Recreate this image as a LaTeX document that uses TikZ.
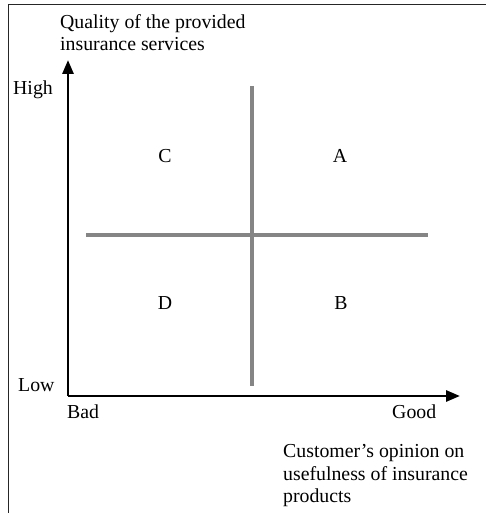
\documentclass[tikz,border=0pt]{standalone}
\usepackage{fontspec}
\setmainfont{Liberation Serif}
\usetikzlibrary{arrows.meta}

\begin{document}
\begin{tikzpicture}[x=1pt,y=1pt,
  every node/.style={font=\fontsize{19.8}{22.8}\selectfont,inner sep=0pt},
  axis/.style={line width=2.8pt,-{Triangle[length=14pt,width=11pt]}},
  divider/.style={line width=3.5pt,draw=black!48},
  frame/.style={line width=1pt,draw=black!85},
  quad/.style={anchor=base}]
  \useasboundingbox (0,0) rectangle (486,513);

  % frame (only top and left edges are visible)
  \coordinate (FTL) at (8,508);
  \coordinate (FTR) at (486,508);
  \coordinate (FBL) at (8,0);
  \draw[frame] (FTR) -- (FTL) -- (FBL);

  % axes
  \coordinate (O) at (68,117);
  \coordinate (Ytop) at (68,453);
  \coordinate (Xend) at (460,117);
  \draw[axis] (O) -- (Ytop);
  \draw[axis] (O) -- (Xend);

  % quadrant dividers
  \coordinate (Vtop) at (252,427);
  \coordinate (Vbot) at (252,127);
  \coordinate (Hleft) at (86,278);
  \coordinate (Hright) at (428,278);
  \draw[divider] (Vtop) -- (Vbot);
  \draw[divider] (Hleft) -- (Hright);

  % axis labels (base = last line)
  \node[anchor=base west,align=left] (quality) at (60,462)
    {Quality of the provided\\insurance services};
  \node[anchor=base west] (high) at (13,418) {High};
  \node[anchor=base west] (low) at (18,121) {Low};
  \node[anchor=base west] (bad) at (67,94) {Bad};
  \node[anchor=base west] (good) at (392,94) {Good};
  \node[anchor=base west,align=left] (opinion) at (283,10)
    {Customer’s opinion on\\usefulness of insurance\\products};

  % quadrants
  \node[quad] (C) at (165,350) {C};
  \node[quad] (A) at (340,350) {A};
  \node[quad] (D) at (165,203) {D};
  \node[quad] (B) at (341,203) {B};
\end{tikzpicture}
\end{document}
